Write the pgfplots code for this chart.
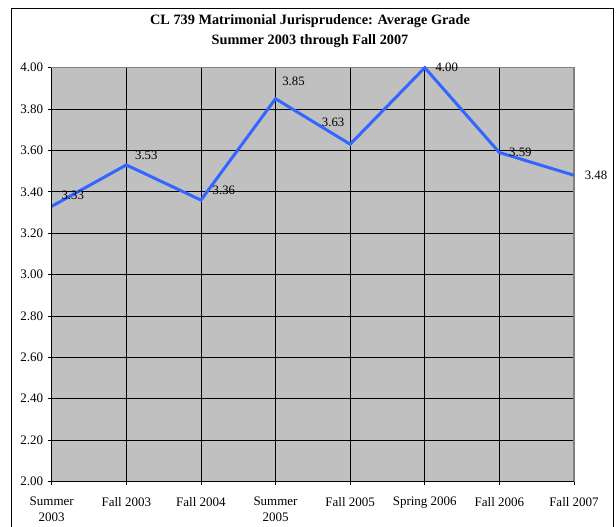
\documentclass[border=0pt]{standalone}
\usepackage{fontspec}
\setmainfont{Liberation Serif}
\usepackage{pgfplots}
\pgfplotsset{compat=1.18}
\usepackage{pgfplotstable}
\definecolor{plotgray}{HTML}{C0C0C0}
\definecolor{bordergray}{HTML}{808080}
\definecolor{lineblue}{HTML}{3366FF}
\pgfplotstableread{
x y dx dy
0 3.33 21 11
1 3.53 20 10
2 3.36 23 10
3 3.85 18 17
4 3.63 -17 22
5 4.00 22 0
6 3.59 21 0
7 3.48 22 0
}\grades
\begin{document}
\begin{tikzpicture}[x=1pt,y=1pt]
\useasboundingbox (0,0) rectangle (616,527);
\fill[white] (0,0) rectangle (616,527);
\draw[black, line width=1pt] (11.8,-10) -- (11.8,518.5) -- (613,518.5) -- (613,-10);
\node[font=\bfseries\fontsize{14.3}{17}\selectfont] at (310,505.5) {CL 739 Matrimonial Jurisprudence: Average Grade};
\node[font=\bfseries\fontsize{14.3}{17}\selectfont] at (310,486) {Summer 2003 through Fall 2007};
\begin{axis}[
  at={(51.7pt,45.5pt)}, anchor=south west,
  scale only axis, width=522.3pt, height=413.8pt,
  xmin=0, xmax=7, ymin=2, ymax=4,
  xtick={0,...,7},
  xticklabels={{Summer\\2003},{Fall 2003},{Fall 2004},{Summer\\2005},{Fall 2005},{Spring 2006},{Fall 2006},{Fall 2007}},
  ytick={2,2.2,...,4.01},
  yticklabel style={/pgf/number format/fixed, /pgf/number format/fixed zerofill, /pgf/number format/precision=2, xshift=-1pt},
  /pgf/number format/assume math mode=true,
  tick label style={font=\fontsize{13}{16.3}\selectfont},
  xticklabel style={align=center, yshift=-8pt},
  tick align=outside,
  major tick length=4pt,
  tick style={black, line width=0.8pt},
  xtick pos=bottom, ytick pos=left,
  grid=major,
  major grid style={black, line width=0.8pt},
  axis background/.style={fill=plotgray},
  axis line style={bordergray, line width=1.5pt},
  clip=false,
]
\addplot[lineblue, line width=3pt, no markers,
  visualization depends on={\thisrow{dx}\as\dx},
  visualization depends on={\thisrow{dy}\as\dy},
  nodes near coords,
  nodes near coords style={anchor=center, xshift=\dx pt, yshift=\dy pt, black,
     font=\fontsize{12.8}{15}\selectfont,
     /pgf/number format/fixed, /pgf/number format/fixed zerofill, /pgf/number format/precision=2, /pgf/number format/assume math mode=true},
] table[x=x,y=y] {\grades};
\draw[black, line width=1pt] (axis cs:0,4) -- (axis cs:0,2) -- (axis cs:7,2);
\end{axis}
\end{tikzpicture}
\end{document}
